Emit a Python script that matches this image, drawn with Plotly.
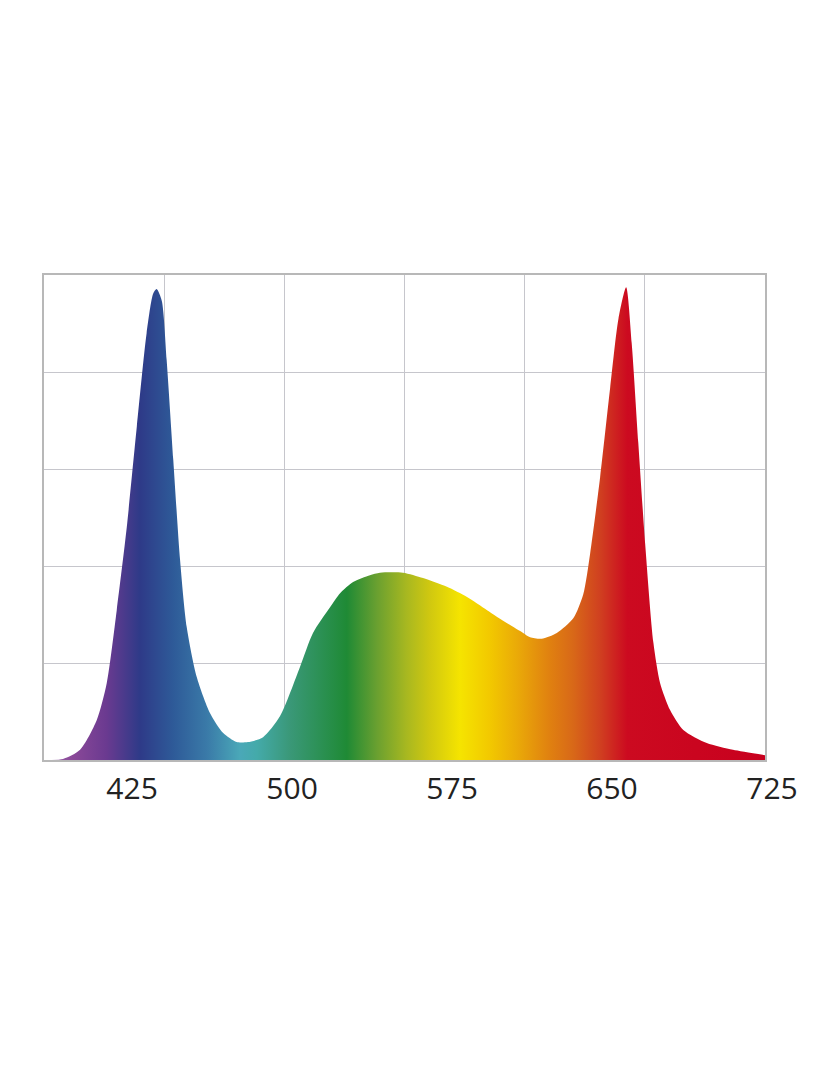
import numpy as np
import plotly.graph_objects as go

# Wavelength (nm) and relative intensity (% of full scale)
wavelength = [383.7, 392.6, 400.6, 408.4, 413.1, 417.8, 422.5, 427.2, 431.8, 434.9,
              436.5, 438.9, 441.2, 444.3, 447.5, 450.6, 455.3, 461.5, 467.6, 474.0,
              479.3, 486.4, 494.3, 503.7, 509.8, 517.8, 522.5, 528.6, 536.5, 541.2,
              552.0, 561.4, 572.6, 582.0, 591.4, 600.8, 608.3, 611.6, 617.0, 624.1,
              631.9, 636.5, 639.7, 644.4, 649.1, 653.0, 656.6, 659.2, 662.3, 665.5,
              669.4, 672.5, 677.2, 683.4, 694.4, 706.7, 721.7]
intensity = [0.0, 0.2, 2.1, 8.2, 15.8, 30.9, 48.0, 68.7, 88.0, 96.2,
             97.1, 94.7, 82.5, 61.9, 41.2, 27.4, 17.1, 9.7, 5.6, 3.7,
             3.7, 4.7, 9.0, 19.2, 26.2, 31.5, 34.4, 36.7, 38.1, 38.6,
             38.6, 37.5, 35.7, 33.6, 30.9, 28.2, 26.2, 25.3, 25.0, 26.2,
             29.3, 34.2, 42.5, 58.3, 76.7, 91.0, 97.5, 86.0, 65.4, 44.7,
             24.1, 15.9, 10.3, 6.2, 3.5, 2.1, 1.0]

tick_labels = ["425", "500", "575", "650", "725"]
tick_values = [425, 500, 575, 650, 725]

x_range = [383.7, 721.7]
y_range = [0, 100]

spectrum_stops = [0.0, 0.040, 0.087, 0.133, 0.179, 0.226, 0.272, 0.295, 0.341, 0.420,
                  0.462, 0.503, 0.535, 0.577, 0.619, 0.656, 0.702, 0.734, 0.771, 0.809, 1.0]
spectrum_colors = ["#9a6aae", "#8a4898", "#6a3a90", "#2e3a88", "#2e5a98", "#3a7aa8",
                   "#4aa8b8", "#44aaaa", "#3a9878", "#1f8a35", "#6aa030", "#a8b820",
                   "#d0c810", "#f5e400", "#f2c800", "#eaaa08", "#e08010", "#d86818",
                   "#d04020", "#cc0a20", "#c8001e"]

# plot box occupies this share of the paper width; the label axis spans the full width
plot_share = 721 / 756
label_range = [x_range[0], x_range[0] + (x_range[1] - x_range[0]) / plot_share]

grid_positions = list(np.linspace(x_range[0], x_range[1], 7))

fig = go.Figure()
fig.add_trace(go.Scatter(
    x=wavelength, y=intensity, mode="lines",
    line=dict(width=0, shape="spline", smoothing=0.7),
    fill="tozeroy",
    fillgradient=dict(type="horizontal",
                      colorscale=list(zip(spectrum_stops, spectrum_colors)),
                      start=x_range[0], stop=x_range[1]),
    hoverinfo="skip", showlegend=False,
))
# invisible traces bound to the grid axis and to the label axis
fig.add_trace(go.Scatter(x=[x_range[0]], y=[0], xaxis="x2", mode="markers",
                         marker=dict(opacity=0), showlegend=False, hoverinfo="skip"))
fig.add_trace(go.Scatter(x=[x_range[0]], y=[0], xaxis="x3", yaxis="y3", mode="markers",
                         marker=dict(opacity=0), showlegend=False, hoverinfo="skip"))

fig.update_layout(
    width=840, height=1080,
    margin=dict(l=36, r=48, t=267, b=328),
    paper_bgcolor="white", plot_bgcolor="rgba(0,0,0,0)",
    xaxis=dict(range=x_range, domain=[0, plot_share], showticklabels=False,
               showgrid=False, zeroline=False, ticks="",
               showline=True, linecolor="#b8b8b8", linewidth=1.5, mirror=True),
    xaxis2=dict(range=x_range, overlaying="x", side="top", tickvals=grid_positions,
                showticklabels=False, showgrid=True, gridcolor="#c6c6cc", gridwidth=1,
                zeroline=False, ticks="", showline=False),
    xaxis3=dict(range=label_range, domain=[0, 1], anchor="y3", side="bottom",
                tickvals=tick_values, ticktext=tick_labels,
                showgrid=False, zeroline=False, ticks="", showline=False,
                tickfont=dict(family="Open Sans", size=30, color="#222222"),
                ticklabelstandoff=8),
    yaxis=dict(range=y_range, dtick=20, showgrid=True, gridcolor="#c6c6cc", gridwidth=1,
               showticklabels=False, zeroline=False, ticks="",
               showline=True, linecolor="#b8b8b8", linewidth=1.5, mirror=True),
    yaxis3=dict(range=y_range, domain=[0, 1], anchor="x3", visible=False,
                showgrid=False, zeroline=False),
)

fig.write_html("out.html")
